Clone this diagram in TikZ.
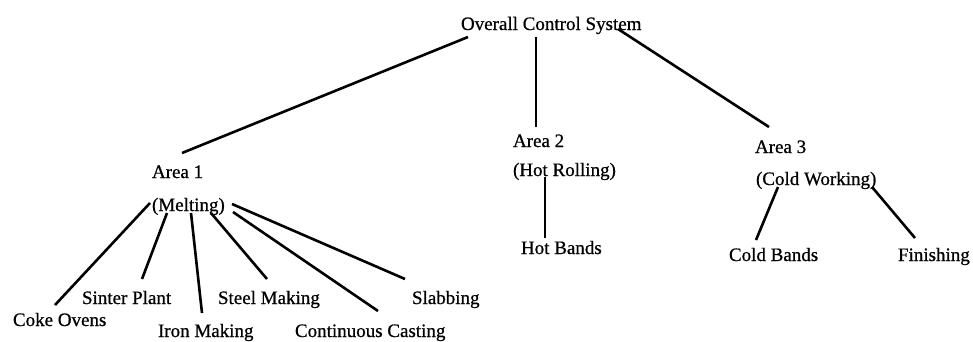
\documentclass[tikz,border=0pt]{standalone}
\usepackage{fontspec}
\setmainfont{Liberation Serif}
\newfontfamily\lblfont{Liberation Serif}[FakeBold=0.7]
\usetikzlibrary{calc}
\begin{document}
\begin{tikzpicture}[x=1pt,y=-1pt,
  lbl/.style={anchor=base west,inner sep=0pt,outer sep=0pt,font=\lblfont\fontsize{19}{22}\selectfont},
  link/.style={line width=2.6pt,black}]
\useasboundingbox (0,0) rectangle (973,341);
% labels
\node[lbl] (root) at (461,30) {Overall Control System};
\node[lbl] (a1) at (152,178) {Area 1};
\node[lbl] (melt) at (152,211) {(Melting)};
\node[lbl] (a2) at (513,147) {Area 2};
\node[lbl] (hr) at (513,176) {(Hot Rolling)};
\node[lbl] (hb) at (521,254) {Hot Bands};
\node[lbl] (a3) at (755,153) {Area 3};
\node[lbl] (cw) at (756,185) {(Cold Working)};
\node[lbl] (cb) at (729,261) {Cold Bands};
\node[lbl] (fin) at (898,261) {Finishing};
\node[lbl] (coke) at (13,326) {Coke Ovens};
\node[lbl] (sinter) at (82,304) {Sinter Plant};
\node[lbl] (iron) at (158,337) {Iron Making};
\node[lbl] (steel) at (218,304) {Steel Making};
\node[lbl] (cc) at (295,337) {Continuous Casting};
\node[lbl] (slab) at (412,304) {Slabbing};
% top level links
\draw[link] ($(root.base west)+(7,7)$) -- ($(a1.base west)+(30,-25)$);
\draw[link] ($(root.base west)+(75,7)$) -- ($(a2.base west)+(23,-20)$);
\draw[link] ($(root.base west)+(157,-1)$) -- ($(a3.base west)+(14,-26)$);
% area 2 and 3 links
\draw[link] ($(hr.base west)+(32,1)$) -- ($(hb.base west)+(24,-16)$);
\draw[link] ($(cw.base west)+(22,2)$) -- ($(cb.base west)+(27,-21)$);
\draw[link] ($(cw.base west)+(116,2)$) -- ($(fin.base west)+(17,-23)$);
% area 1 links
\draw[link] ($(melt.base west)+(-2,-8)$) -- ($(coke.base west)+(42,-21)$);
\draw[link] ($(melt.base west)+(15,2)$) -- ($(sinter.base west)+(60,-25)$);
\draw[link] ($(melt.base west)+(39,2)$) -- ($(iron.base west)+(44,-24)$);
\draw[link] ($(melt.base west)+(59,2)$) -- ($(steel.base west)+(49,-25)$);
\draw[link] ($(melt.base west)+(81,1)$) -- ($(cc.base west)+(83,-26)$);
\draw[link] ($(melt.base west)+(80,-7)$) -- ($(slab.base west)+(-7,-25)$);
\end{tikzpicture}
\end{document}
